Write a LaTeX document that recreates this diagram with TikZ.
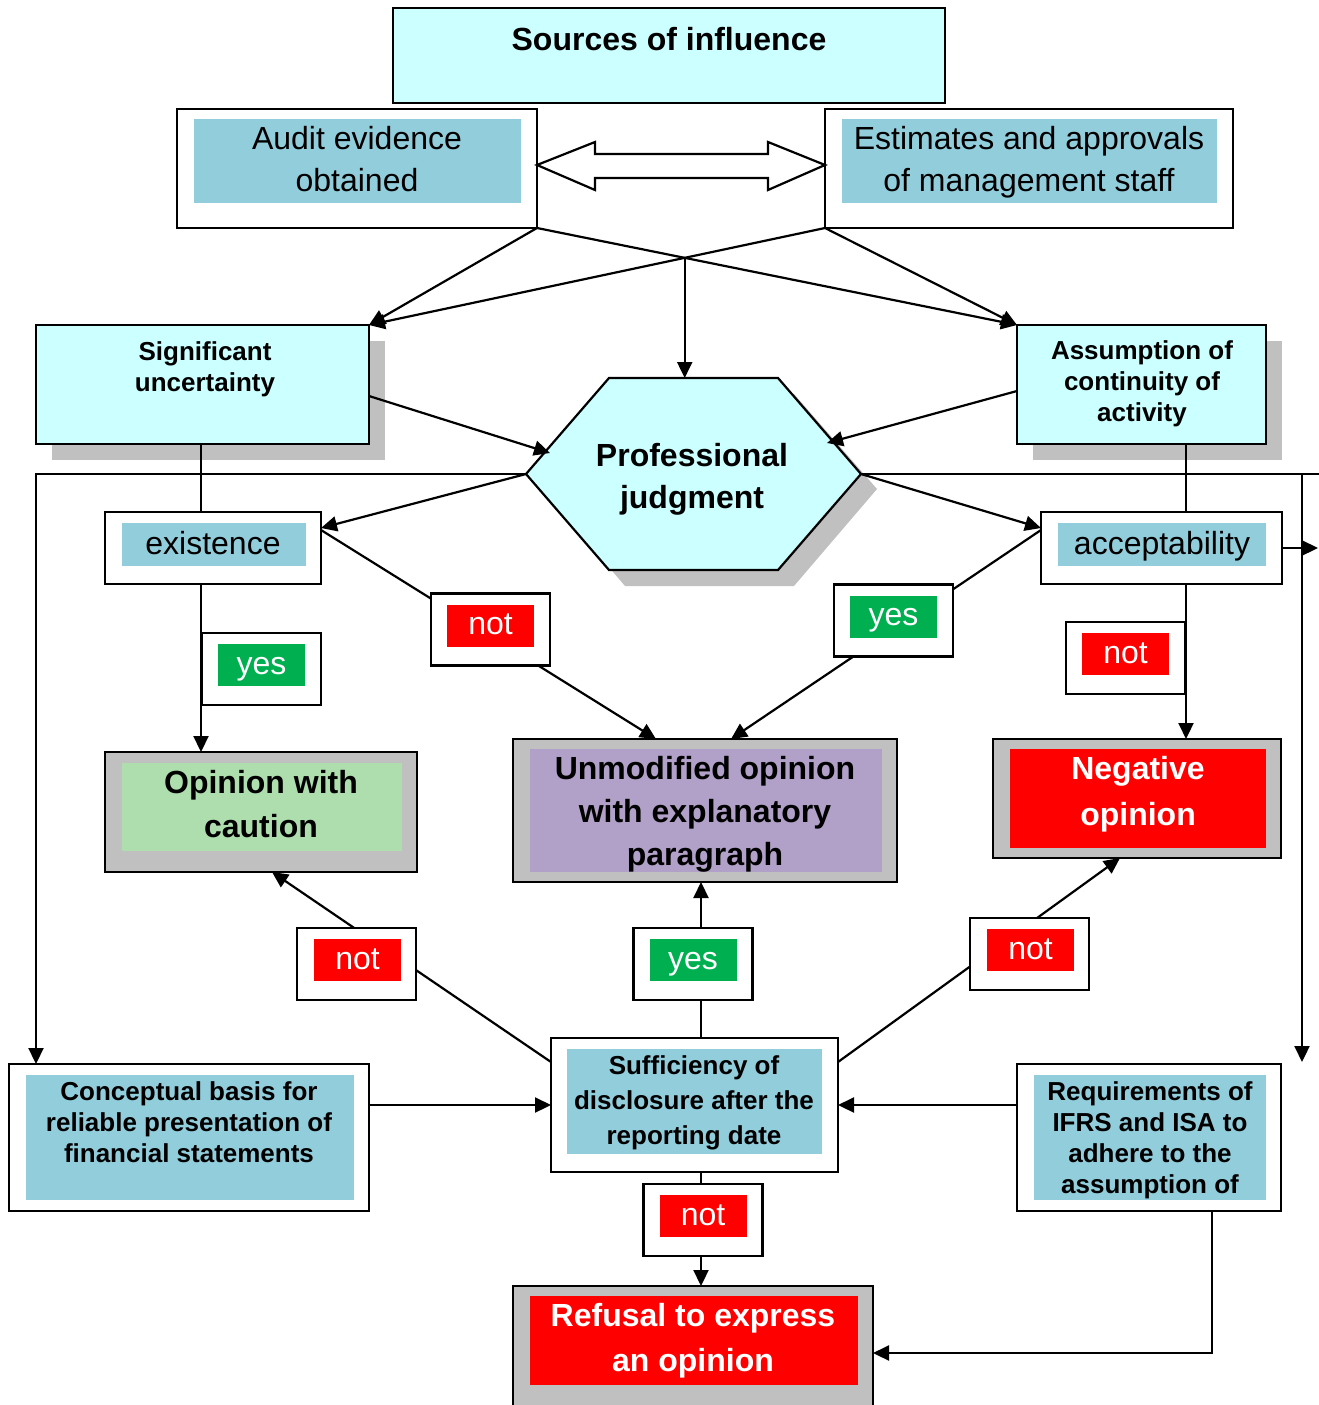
\documentclass[tikz,border=0pt]{standalone}
\usepackage{fontspec}
\setmainfont{Liberation Sans}
\usetikzlibrary{arrows.meta,calc}
\definecolor{lcyan}{HTML}{CCFFFF}
\definecolor{lblue}{HTML}{92CDDC}
\definecolor{sgray}{HTML}{C0C0C0}
\definecolor{lgreen}{RGB}{174,221,174}
\definecolor{lpurple}{HTML}{B1A0C7}
\definecolor{ygreen}{HTML}{00B050}
\definecolor{nred}{HTML}{FF0000}
\begin{document}
\begin{tikzpicture}[x=1pt,y=-1pt,line width=2.2pt,
  box/.style={draw,rectangle,inner sep=0pt,outer sep=0pt},
  fillbox/.style={rectangle,inner sep=0pt,outer sep=0pt},
  txt/.style={align=center,inner sep=0pt},
  one/.style={text height=24pt,text depth=6pt},
  big/.style={font=\fontsize{32}{42}\selectfont},
  bigb/.style={font=\fontsize{32}{43}\selectfont\bfseries},
  midb/.style={font=\fontsize{26}{31}\selectfont\bfseries},
  arr/.style={-{Triangle[length=16pt,width=15pt]}},
  lab/.style={draw,fill=white,minimum width=119pt,minimum height=72pt,inner sep=0pt,outer sep=0pt},
  labin/.style={fillbox,minimum width=87pt,minimum height=42pt,text=white,big,one}
]
\useasboundingbox (0,0) rectangle (1319,1405);

% shadows
\fill[sgray] (52,341) rectangle (385,460);
\fill[sgray] (1033,341) rectangle (1282,460);
\fill[sgray] (625,394) -- (794,394) -- (877,489) -- (794,586) -- (625,586) -- (542,489) -- cycle;

% top
\node[box,fill=lcyan,minimum width=552pt,minimum height=95pt] (src) at (669,55.5) {};
\node[txt,bigb,one] (srct) at (669,41.5) {Sources of influence};

\node[box,fill=white,minimum width=360pt,minimum height=119pt] (audit) at (357,168.5) {};
\node[fillbox,fill=lblue,minimum width=327pt,minimum height=84pt] (auditin) at (357.5,161) {};
\node[txt,big] (auditt) at (357,159) {Audit evidence\\obtained};

\node[box,fill=white,minimum width=408pt,minimum height=119pt] (estim) at (1029,168.5) {};
\node[fillbox,fill=lblue,minimum width=375pt,minimum height=84pt] (estimin) at (1029.5,161) {};
\node[txt,big] (estimt) at (1029,162) {Estimates and approvals\\of management staff};

% double arrow
\draw[fill=white,line join=miter] (537,165) -- (595,142) -- (595,154) -- (768,154) -- (768,142) -- (825,165) -- (768,190) -- (768,178) -- (595,178) -- (595,190) -- cycle;

% second row
\node[box,fill=lcyan,minimum width=333pt,minimum height=119pt] (sig) at (202.5,384.5) {};
\node[txt,midb] (sigt) at (205,369.5) {Significant\\uncertainty};

\node[box,fill=lcyan,minimum width=249pt,minimum height=119pt] (assum) at (1141.5,384.5) {};
\node[txt,midb] (assumt) at (1142,383.5) {Assumption of\\continuity of\\activity};

% hexagon
\coordinate (hexTL) at (609,378);
\coordinate (hexTR) at (778,378);
\coordinate (hexR) at (861,474);
\coordinate (hexBR) at (778,570);
\coordinate (hexBL) at (609,570);
\coordinate (hexL) at (526,474);
\coordinate (hexInL) at (550,453);
\coordinate (hexInR) at (827,443);
\draw[fill=lcyan] (hexTL) -- (hexTR) -- (hexR) -- (hexBR) -- (hexBL) -- (hexL) -- cycle;
\node[txt,font=\fontsize{32}{42}\selectfont\bfseries] (prof) at (692,479) {Professional\\judgment};

% existence / acceptability
\node[box,fill=white,minimum width=216pt,minimum height=72pt] (exist) at (213,548) {};
\node[fillbox,fill=lblue,minimum width=184pt,minimum height=43pt] (existin) at (214,544.5) {};
\node[txt,big,one] (existt) at (213,545) {existence};

\node[box,fill=white,minimum width=241pt,minimum height=72pt] (acc) at (1161.5,548) {};
\node[fillbox,fill=lblue,minimum width=208pt,minimum height=43pt] (accin) at (1162,544.5) {};
\node[txt,big,one] (acct) at (1162,545) {acceptability};

% opinions
\node[box,fill=sgray,minimum width=312pt,minimum height=120pt] (caution) at (261,812) {};
\node[fillbox,fill=lgreen,minimum width=280pt,minimum height=88pt] (cautionin) at (262,807) {};
\node[txt,font=\fontsize{32}{44}\selectfont\bfseries] (cautiont) at (261,804) {Opinion with\\caution};

\node[box,fill=sgray,minimum width=384pt,minimum height=143pt] (unmod) at (705,810.5) {};
\node[fillbox,fill=lpurple,minimum width=352pt,minimum height=123pt] (unmodin) at (706,810.5) {};
\node[txt,bigb] (unmodt) at (705,814) {Unmodified opinion\\with explanatory\\paragraph};

\node[box,fill=sgray,minimum width=288pt,minimum height=119pt] (neg) at (1137,798.5) {};
\node[fillbox,fill=nred,minimum width=256pt,minimum height=99pt] (negin) at (1138,798.5) {};
\node[txt,text=white,font=\fontsize{32}{46}\selectfont\bfseries] (negt) at (1138,794) {Negative\\opinion};

% bottom row
\node[box,fill=white,minimum width=287pt,minimum height=134pt] (suff) at (694.5,1105) {};
\node[fillbox,fill=lblue,minimum width=255pt,minimum height=105pt] (suffin) at (694.5,1101.5) {};
\node[txt,font=\fontsize{26}{35}\selectfont\bfseries] (sufft) at (694,1103) {Sufficiency of\\disclosure after the\\reporting date};

\node[box,fill=white,minimum width=360pt,minimum height=147pt] (conc) at (189,1137.5) {};
\node[fillbox,fill=lblue,minimum width=328pt,minimum height=125pt] (concin) at (190,1137.5) {};
\node[txt,midb] (conct) at (189,1122) {Conceptual basis for\\reliable presentation of\\financial statements};

\node[box,fill=white,minimum width=264pt,minimum height=147pt] (req) at (1149,1137.5) {};
\node[fillbox,fill=lblue,minimum width=232pt,minimum height=125pt] (reqin) at (1150,1137.5) {};
\node[txt,midb] (reqt) at (1150,1140) {Requirements of\\IFRS and ISA to\\adhere to the\\assumption of};

\node[box,fill=sgray,minimum width=360pt,minimum height=134pt] (refusal) at (693,1353) {};
\node[fillbox,fill=nred,minimum width=328pt,minimum height=89pt] (refusalin) at (694,1340.5) {};
\node[txt,text=white,font=\fontsize{32}{45}\selectfont\bfseries] (refusalt) at (693,1340.5) {Refusal to express\\an opinion};

% connectors: top
\coordinate (X) at (intersection of audit.south east--assum.north west and estim.south west--sig.north east);
\draw[arr] (audit.south east) -- (sig.north east);
\draw[arr] (audit.south east) -- (assum.north west);
\draw[arr] (estim.south west) -- (sig.north east);
\draw[arr] (estim.south west) -- (assum.north west);
\draw[arr] (X) -- (X |- hexTL);
\draw[arr] ([yshift=-11.5pt]sig.east) -- (hexInL);
\draw[arr] ([yshift=-6.5pt]assum.west) -- (hexInR);

% verticals and the long lines
\coordinate (lx) at (201,0);
\coordinate (rx) at (1186,0);
\coordinate (mx) at (701,0);
\draw (lx |- sig.south) -- (lx |- exist.north);
\draw (rx |- assum.south) -- (rx |- acc.north);
\coordinate (lt) at (36,474);
\draw[arr] (hexL) -- (lt) -- (lt |- conc.north);
\coordinate (rt) at (1319,474);
\draw (hexR) -- (rt);
\coordinate (rv) at (1302,474);
\coordinate (rvend) at (1302,1062);
\draw[arr] (rv) -- (rvend);
\coordinate (accout) at (1318,548);
\draw[arr] (acc.east) -- (accout);
\draw[arr] (hexL) -- ([yshift=20pt]exist.east);
\draw[arr] (hexR) -- ([yshift=20pt]acc.west);

% decisions
\draw[arr] (lx |- exist.south) -- (lx |- caution.north);
\draw[arr] ([yshift=18pt]exist.east) -- ([xshift=-49pt]unmod.north);
\draw[arr] ([yshift=18pt]acc.west) -- ([xshift=26pt]unmod.north);
\draw[arr] (rx |- acc.south) -- (rx |- neg.north);
\draw[arr] (mx |- suff.north) -- (mx |- unmod.south);
\draw[arr] (mx |- suff.south) -- (mx |- refusal.north);
\draw[arr] ([yshift=43pt]suff.west) -- ([xshift=11pt]caution.south);
\draw[arr] ([yshift=43pt]suff.east) -- ([xshift=-17pt]neg.south);
\draw[arr] (conc.east |- suff.west) -- (suff.west);
\draw[arr] (req.west |- suff.east) -- (suff.east);
\draw[arr] ([xshift=63pt]req.south) |- (refusal.east);

% labels
\node[lab] (yes1) at (261.5,669) {};
\node[labin,fill=ygreen] (yes1in) at (261.5,665) {yes};
\node[lab] (not1) at (490.5,629.5) {};
\node[labin,fill=nred] (not1in) at (490.5,625.5) {not};
\node[lab] (yes2) at (893.5,620.5) {};
\node[labin,fill=ygreen] (yes2in) at (893.5,616.5) {yes};
\node[lab] (not2) at (1125.5,658) {};
\node[labin,fill=nred] (not2in) at (1125.5,654) {not};
\node[lab] (not3) at (356.5,964) {};
\node[labin,fill=nred] (not3in) at (357.5,960) {not};
\node[lab] (yes3) at (693,964) {};
\node[labin,fill=ygreen] (yes3in) at (693,960) {yes};
\node[lab] (not4) at (1029.5,954) {};
\node[labin,fill=nred] (not4in) at (1030.5,950) {not};
\node[lab] (not5) at (703,1220) {};
\node[labin,fill=nred] (not5in) at (703,1216) {not};
\end{tikzpicture}
\end{document}
